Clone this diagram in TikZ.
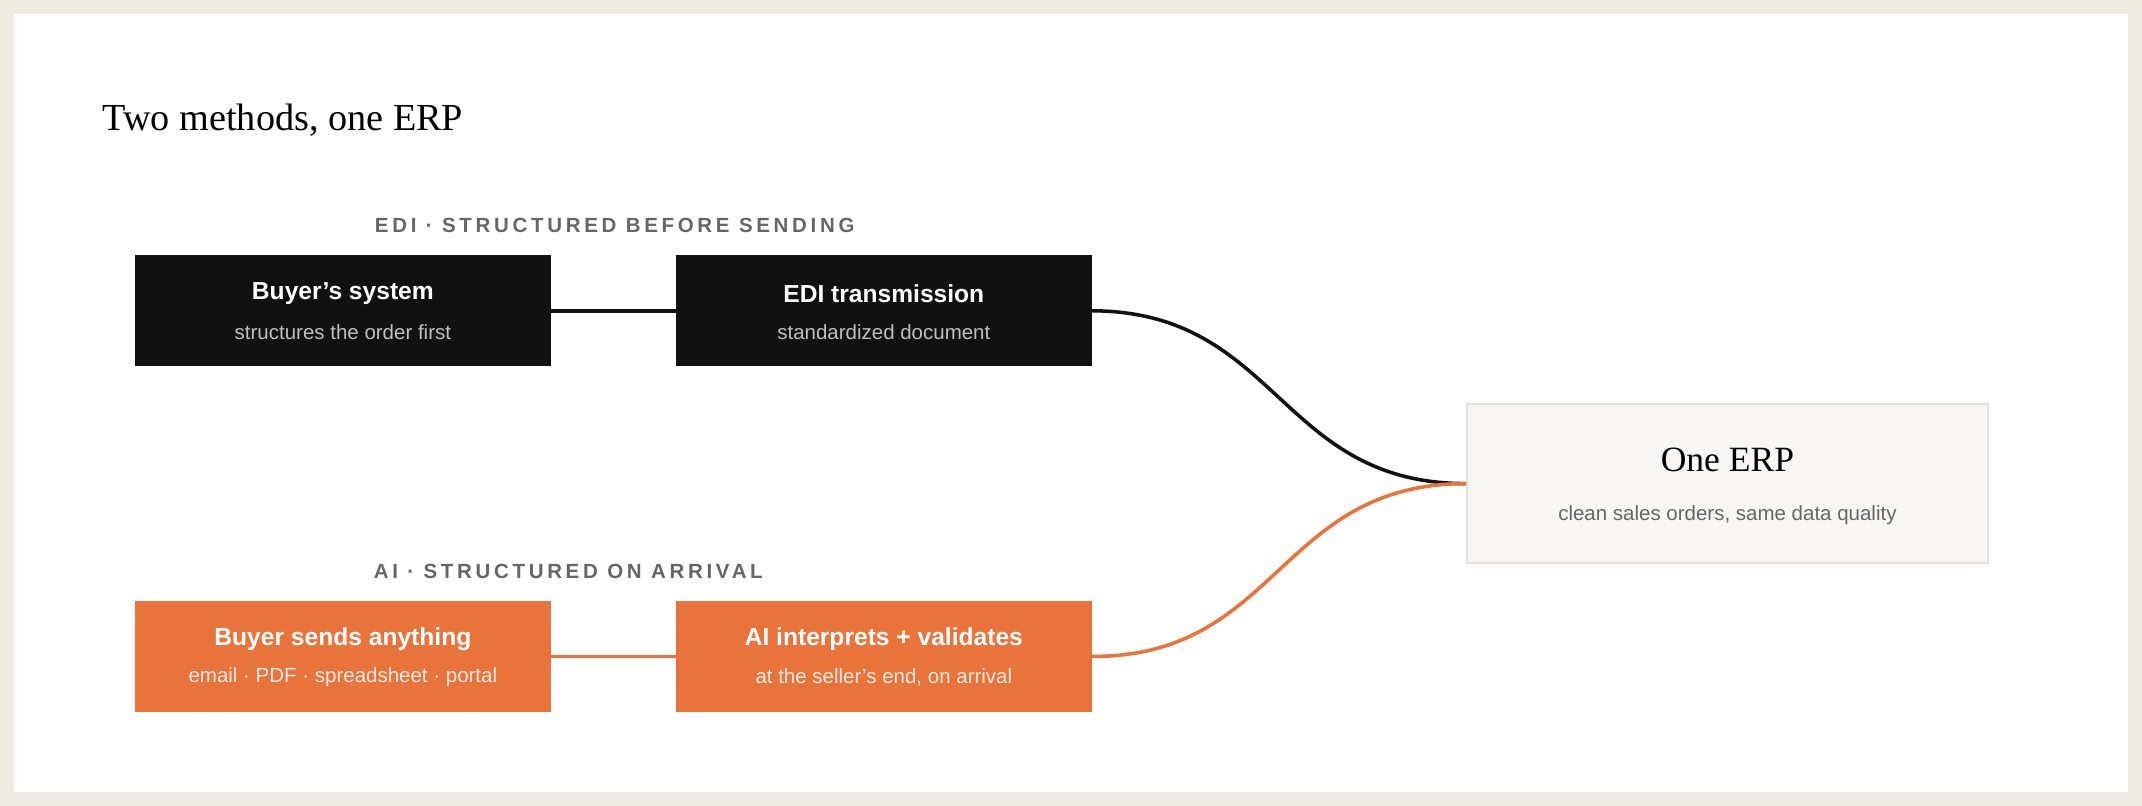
\documentclass[tikz,border=0pt]{standalone}
\usepackage{fontspec}
\setmainfont{Liberation Sans}
\newfontfamily\titlefont{Liberation Serif}
\definecolor{frame}{HTML}{EEEBE3}
\definecolor{ink}{HTML}{111111}
\definecolor{org}{HTML}{E8743B}
\definecolor{erpfill}{HTML}{F8F6F3}
\definecolor{erpline}{HTML}{E4E1DB}
\definecolor{lab}{HTML}{666666}
\begin{document}
\begin{tikzpicture}[x=0.5pt,y=-0.5pt,
  box/.style={minimum width=152pt,minimum height=40.5pt,inner sep=0pt,align=center},
  dark/.style={box,fill=ink,text=white},
  orbox/.style={box,fill=org,text=white},
  hd/.style={font=\fontsize{9}{11}\selectfont\bfseries},
  sub/.style={font=\fontsize{7.5}{9}\selectfont},
  lbl/.style={font=\fontsize{7.5}{9}\selectfont\bfseries\addfontfeatures{LetterSpace=18},text=lab}]
\fill[frame] (0,0) rectangle (1568,590);
\fill[white] (10,10) rectangle (1558,580);
\node[anchor=west,font=\titlefont\fontsize{14}{16}\selectfont] (t) at (68,88) {Two methods, one ERP};
\node[lbl] (l1) at (450,165) {EDI · STRUCTURED BEFORE SENDING};
\node[lbl] (l2) at (416,418) {AI · STRUCTURED ON ARRIVAL};
\node[dark] (a) at (251,227.5) {\\[-6pt]};
\node[hd,text=white] at (251,215) {Buyer's system};
\node[sub,text=black!25] at (251,243) {structures the order first};
\node[dark] (b) at (647,227.5) {};
\node[hd,text=white] at (647,215) {EDI transmission};
\node[sub,text=black!25] at (647,243) {standardized document};
\node[orbox] (c) at (251,480.5) {};
\node[hd,text=white] at (251,468) {Buyer sends anything};
\node[sub,text=white!85!org] at (251,496) {email · PDF · spreadsheet · portal};
\node[orbox] (d) at (647,480.5) {};
\node[hd,text=white] at (647,468) {AI interprets + validates};
\node[sub,text=white!85!org] at (647,496) {at the seller's end, on arrival};
\node[box,fill=erpfill,draw=erpline,line width=0.8pt,minimum width=190.5pt,minimum height=58pt] (e) at (1264.5,354) {};
\node[font=\titlefont\fontsize{13}{15}\selectfont] at (1264.5,337) {One ERP};
\node[sub,text=lab] at (1264.5,377) {clean sales orders, same data quality};
\draw[ink,line width=1.3pt] (a.east) -- (b.west);
\draw[org,line width=1.3pt] (c.east) -- (d.west);
\draw[ink,line width=1.3pt] (b.east) .. controls (936,228) and (936,354) .. (e.west);
\draw[org,line width=1.3pt] (d.east) .. controls (936,481) and (936,354) .. (e.west);
\end{tikzpicture}
\end{document}
